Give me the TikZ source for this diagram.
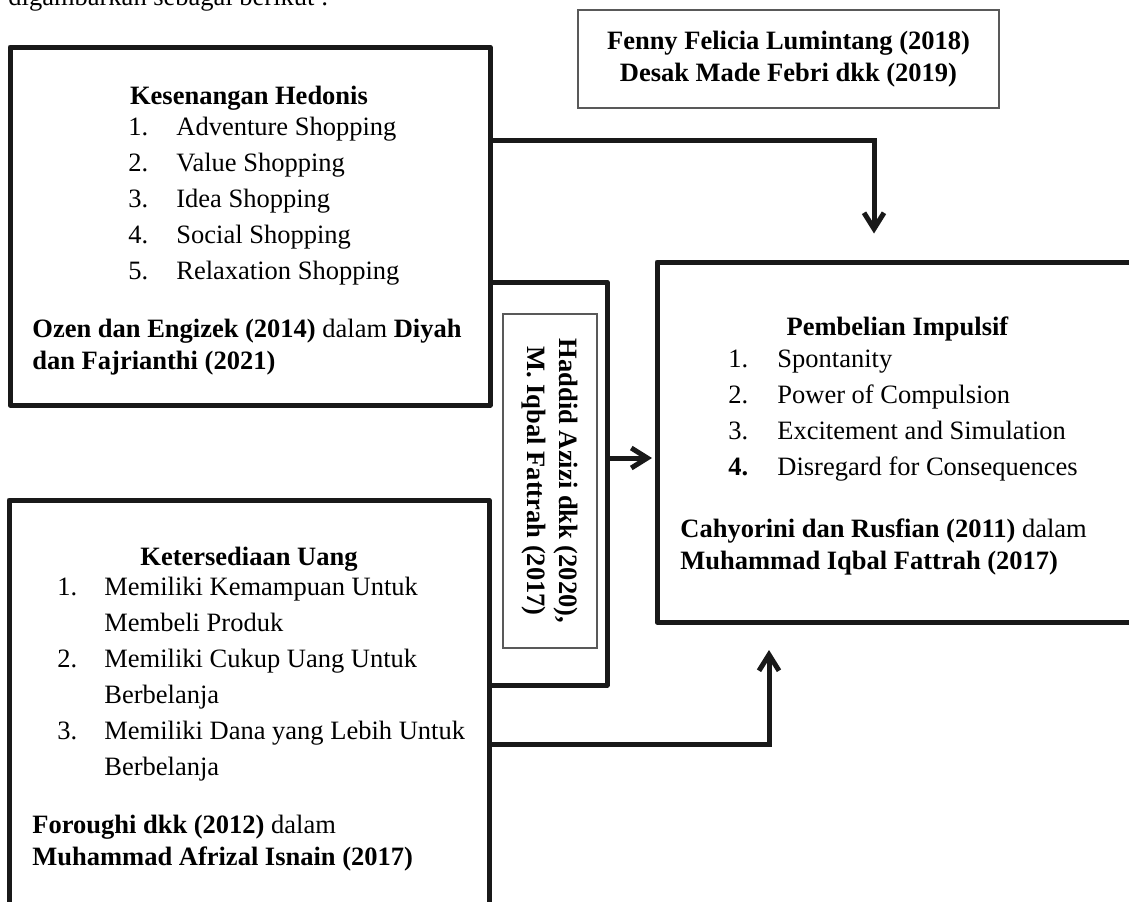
\documentclass[tikz,border=0pt]{standalone}
\usepackage{fontspec}
\setmainfont{Liberation Serif}
\usetikzlibrary{arrows.meta}

\begin{document}
\begin{tikzpicture}[
    x=0.5pt, y=-0.5pt,
    frame/.style={draw=black!90, line width=2.5pt, line join=round},
    bigbox/.style={rectangle, frame},
    refbox/.style={rectangle, draw=black!65, line width=0.6pt, align=center, font=\fontsize{13.25}{16}\selectfont\bfseries},
    heading/.style={anchor=base, inner sep=0pt, font=\fontsize{13.25}{18}\selectfont\bfseries},
    items/.style={anchor=base west, inner sep=0pt, font=\fontsize{13.25}{18}\selectfont},
    cite/.style={anchor=base west, inner sep=0pt, font=\fontsize{13.25}{16}\selectfont},
    arrow/.style={-{Straight Barb[length=8pt, width=10pt]}, line width=2.5pt, draw=black!90}
]
    \useasboundingbox (0,0) rectangle (1129,901);

    % Intro line (cut by the page)
    \node[cite] (intro) at (8,5.5) {digambarkan sebagai berikut :};

    % Sources on top
    \node[refbox, minimum width=210.5pt, minimum height=49pt] (fenny) at (788.5,59)
        {Fenny Felicia Lumintang (2018)\\Desak Made Febri dkk (2019)};

    % Kesenangan Hedonis
    \node[bigbox, minimum width=240pt, minimum height=179pt] (hedonis) at (250,226) {};
    \node[heading] (hedtitle) at (249,104) {Kesenangan Hedonis};
    \node[items] (heditems) at (128,135) {\begin{tabular}[t]{@{}p{24pt}@{}l@{}}
        1. & Adventure Shopping\\
        2. & Value Shopping\\
        3. & Idea Shopping\\
        4. & Social Shopping\\
        5. & Relaxation Shopping
    \end{tabular}};
    \node[cite] (hedcite) at (32,337) {\begin{tabular}[t]{@{}l@{}}
        \textbf{Ozen dan Engizek (2014)} dalam \textbf{Diyah}\\
        \textbf{dan Fajrianthi (2021)}
    \end{tabular}};

    % Ketersediaan Uang
    \node[bigbox, minimum width=240pt, minimum height=230pt] (uang) at (249,730) {};
    \node[heading] (uangtitle) at (249,565) {Ketersediaan Uang};
    \node[items] (uangitems) at (57,595) {\begin{tabular}[t]{@{}p{23.5pt}@{}l@{}}
        1. & Memiliki Kemampuan Untuk\\
           & Membeli Produk\\
        2. & Memiliki Cukup Uang Untuk\\
           & Berbelanja\\
        3. & Memiliki Dana yang Lebih Untuk\\
           & Berbelanja
    \end{tabular}};
    \node[cite] (uangcite) at (32,833) {\begin{tabular}[t]{@{}l@{}}
        \textbf{Foroughi dkk (2012)} dalam\\
        \textbf{Muhammad Afrizal Isnain (2017)}
    \end{tabular}};

    % Pembelian Impulsif
    \node[bigbox, minimum width=241.5pt, minimum height=180pt] (impulsif) at (898.5,442) {};
    \node[heading] (imptitle) at (897.5,335) {Pembelian Impulsif};
    \node[items] (impitems) at (728,367) {\begin{tabular}[t]{@{}p{24.5pt}@{}l@{}}
        1. & Spontanity\\
        2. & Power of Compulsion\\
        3. & Excitement and Simulation\\
        \textbf{4.} & Disregard for Consequences
    \end{tabular}};
    \node[cite] (impcite) at (680,537) {\begin{tabular}[t]{@{}l@{}}
        \textbf{Cahyorini dan Rusfian (2011)} dalam\\
        \textbf{Muhammad Iqbal Fattrah (2017)}
    \end{tabular}};

    % Middle frame with rotated sources
    \node[rectangle, inner sep=0pt, outer sep=0pt, minimum width=58.5pt, minimum height=201.5pt] (midframe) at (548.5,483.5) {};
    \draw[frame] (midframe.north west) -- (midframe.north east) -- (midframe.south east) -- (midframe.south west);
    \node[refbox, rotate=-90, minimum width=167pt, minimum height=47pt] (haddid) at (550,481)
        {Haddid Azizi dkk (2020),\\M. Iqbal Fattrah (2017)};

    % Arrows
    \draw[arrow, shorten >=13pt] (hedonis.east |- 0,140) -| (impulsif.north -| 874,0);
    \draw[arrow, shorten >=1.25pt] (midframe.east |- 0,458) -- (impulsif.west |- 0,458);
    \draw[arrow, shorten >=12.75pt] (uang.east |- 0,744) -| (impulsif.south -| 769,0);
\end{tikzpicture}
\end{document}
